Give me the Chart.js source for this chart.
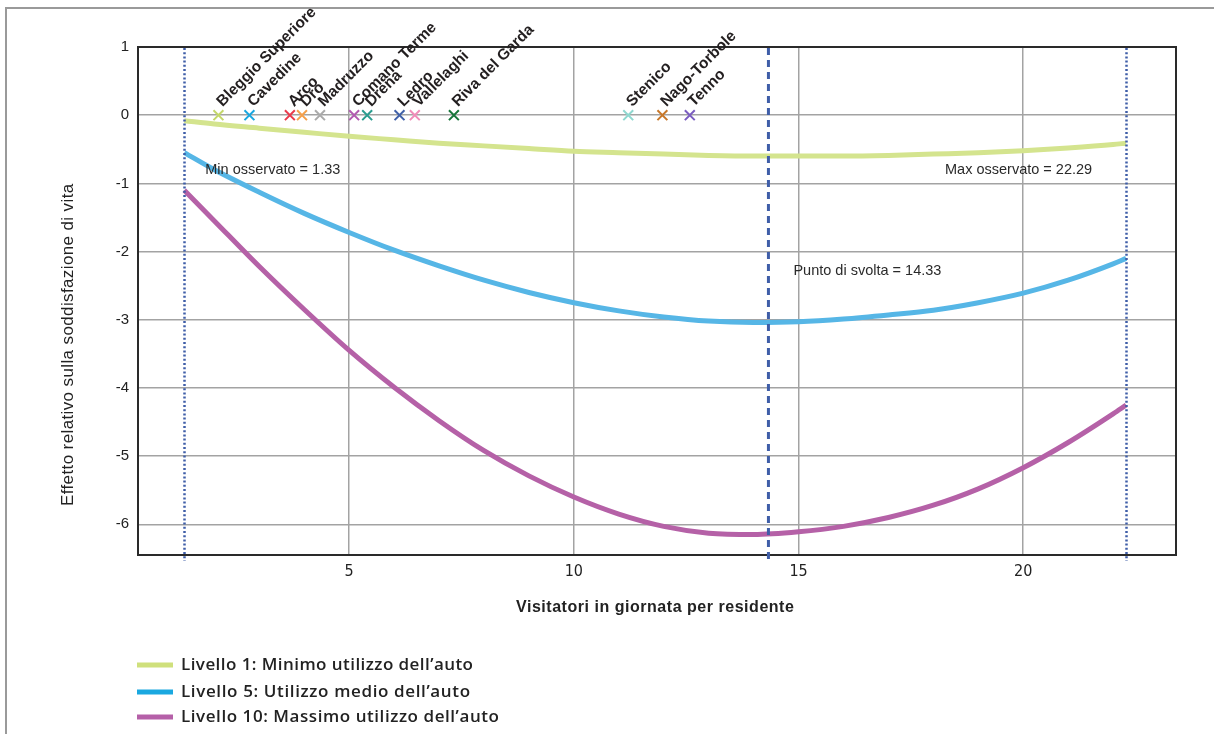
<!DOCTYPE html>
<html><head><meta charset="utf-8">
<script src="https://cdn.jsdelivr.net/npm/chart.js@4.4.1/dist/chart.umd.min.js"></script>
<style>html,body{margin:0;padding:0;background:#fff;}canvas{display:block;}</style>
</head><body>
<canvas id="c" width="1214" height="734"></canvas>
<script>
// ---- data ----
const xValues   = [1.33, 2, 3, 4, 5, 6, 7, 8, 9, 10, 11, 12, 13, 14, 15, 16, 17, 18, 19, 20, 21, 22, 22.29];
const livello1  = [-0.08, -0.13, -0.19, -0.25, -0.31, -0.36, -0.41, -0.45, -0.49, -0.53, -0.55, -0.57, -0.59, -0.60, -0.60, -0.60, -0.59, -0.57, -0.55, -0.52, -0.48, -0.43, -0.41];
const livello5  = [-0.55, -0.80, -1.13, -1.44, -1.72, -1.98, -2.21, -2.42, -2.60, -2.75, -2.87, -2.96, -3.02, -3.04, -3.03, -2.99, -2.93, -2.86, -2.75, -2.61, -2.42, -2.18, -2.10];
const livello10 = [-1.10, -1.55, -2.22, -2.85, -3.45, -3.99, -4.48, -4.92, -5.29, -5.60, -5.85, -6.03, -6.13, -6.15, -6.11, -6.03, -5.90, -5.72, -5.48, -5.17, -4.80, -4.38, -4.25];
const seriesNames = ['Livello 1: Minimo utilizzo dell\u2019auto', 'Livello 5: Utilizzo medio dell\u2019auto', 'Livello 10: Massimo utilizzo dell\u2019auto'];

const comuni  = ['Bleggio Superiore', 'Cavedine', 'Arco', 'Dro', 'Madruzzo', 'Comano Terme', 'Drena', 'Ledro', 'Vallelaghi', 'Riva del Garda', 'Stenico', 'Nago-Torbole', 'Tenno'];
const comuniX = [2.09, 2.78, 3.68, 3.95, 4.35, 5.11, 5.40, 6.12, 6.46, 7.33, 11.21, 11.97, 12.58];

const minOsservato = 1.33, maxOsservato = 22.29, puntoSvolta = 14.33;
const xTicks = [5, 10, 15, 20];
const yTicks = [-6, -5, -4, -3, -2, -1, 0, 1];

// ---- styles ----
const lineColors   = ['#d4e48e', '#56b6e6', '#b561a7'];
const legendColors = ['#cfe07c', '#1aa8e0', '#b560a8'];
const comuniColors = ['#c4d86a', '#1aa7e0', '#ea3a4c', '#f5a04a', '#aaaaaa', '#b25ab0', '#2a9d8f', '#4060a8', '#f18cb9', '#17753a', '#8fd8d0', '#c8782a', '#7a5cc0'];
const refBlue = '#3f5ea8';

function fitText(ctx, text, x, y, target) {
  ctx.letterSpacing = '0px';
  const w = ctx.measureText(text).width;
  let sp = (target - w) / Math.max(1, text.length - 1);
  sp = Math.max(-1, Math.min(3, sp));
  ctx.letterSpacing = sp.toFixed(2) + 'px';
  ctx.fillText(text, x, y);
  ctx.letterSpacing = '0px';
}

const decor = {
  id: 'decor',
  beforeDraw(chart) {
    const ctx = chart.ctx;
    ctx.save();
    ctx.fillStyle = '#fff';
    ctx.fillRect(0, 0, chart.width, chart.height);
    ctx.strokeStyle = '#9a9a9a';
    ctx.lineWidth = 2;
    ctx.beginPath();
    ctx.moveTo(6, 734); ctx.lineTo(6, 8); ctx.lineTo(1214, 8);
    ctx.stroke();
    ctx.restore();
  },
  beforeDatasetsDraw(chart) {
    const {ctx, chartArea: a} = chart;
    ctx.save();
    ctx.strokeStyle = '#2a2a2a';
    ctx.lineWidth = 2;
    ctx.strokeRect(a.left, a.top, a.right - a.left, a.bottom - a.top);
    ctx.restore();
  },
  afterDatasetsDraw(chart) {
    const {ctx, chartArea: a, scales: {x, y}} = chart;
    ctx.save();
    // dotted min/max lines
    ctx.strokeStyle = refBlue;
    ctx.lineWidth = 2.5;
    ctx.setLineDash([2, 2.2]);
    [minOsservato, maxOsservato].forEach(v => {
      const px = Math.round(x.getPixelForValue(v)) + 0.5;
      ctx.beginPath(); ctx.moveTo(px, a.top + 1); ctx.lineTo(px, a.bottom + 6); ctx.stroke();
    });
    // dashed turning point
    ctx.lineWidth = 3;
    ctx.setLineDash([7, 5]);
    const sp = x.getPixelForValue(puntoSvolta);
    ctx.beginPath(); ctx.moveTo(sp, a.top + 1); ctx.lineTo(sp, a.bottom + 6); ctx.stroke();
    ctx.setLineDash([]);

    // annotations
    ctx.fillStyle = '#2a2a2a';
    ctx.font = '14.5px "Liberation Sans", Arial, sans-serif';
    ctx.textBaseline = 'middle';
    ctx.textAlign = 'left';
    ctx.fillText('Min osservato = ' + minOsservato.toFixed(2), x.getPixelForValue(minOsservato) + 21, y.getPixelForValue(-0.81));
    ctx.textAlign = 'right';
    ctx.fillText('Max osservato = ' + maxOsservato.toFixed(2), x.getPixelForValue(maxOsservato) - 34, y.getPixelForValue(-0.80));
    ctx.textAlign = 'left';
    ctx.fillText('Punto di svolta = ' + puntoSvolta.toFixed(2), sp + 25, y.getPixelForValue(-2.29));

    // comuni labels
    ctx.font = 'bold 15.5px "Liberation Sans", Arial, sans-serif';
    ctx.fillStyle = '#231f20';
    ctx.textBaseline = 'alphabetic';
    ctx.textAlign = 'left';
    comuni.forEach((name, i) => {
      const px = x.getPixelForValue(comuniX[i]);
      const py = y.getPixelForValue(0);
      ctx.save();
      ctx.translate(px + 4, py - 8);
      ctx.rotate(-Math.PI / 4);
      ctx.fillText(name, 0, 0);
      ctx.restore();
    });
    ctx.restore();
  },
  afterDraw(chart) {
    const ctx = chart.ctx;
    ctx.save();
    ctx.fillStyle = '#222';
    // y title
    ctx.font = '17px "Liberation Sans", Arial, sans-serif';
    ctx.textBaseline = 'middle';
    ctx.textAlign = 'left';
    ctx.save();
    ctx.translate(68, 345);
    ctx.rotate(-Math.PI / 2);
    fitText(ctx, 'Effetto relativo sulla soddisfazione di vita', -161, 0, 322);
    ctx.restore();
    // x title
    ctx.font = 'bold 16px "Liberation Sans", Arial, sans-serif';
    fitText(ctx, 'Visitatori in giornata per residente', 516, 608, 278);
    // legend
    const ly = [665, 692, 717];
    const targets = [292, 289, 318];
    ctx.font = '600 17px "Open Sans", "Liberation Sans", Arial, sans-serif';
    seriesNames.forEach((n, i) => {
      ctx.fillStyle = legendColors[i];
      ctx.fillRect(137, ly[i] - 2.5, 36, 5);
      ctx.fillStyle = '#222';
      fitText(ctx, n, 181, ly[i], targets[i]);
    });
    ctx.restore();
  }
};

const mkLine = (vals, i) => ({
  type: 'line',
  label: seriesNames[i],
  data: xValues.map((xv, k) => ({x: xv, y: vals[k]})),
  borderColor: lineColors[i],
  borderWidth: 5,
  pointRadius: 0,
  tension: 0.4,
  cubicInterpolationMode: 'monotone',
  fill: false
});

new Chart(document.getElementById('c'), {
  type: 'line',
  data: {
    datasets: [
      mkLine(livello1, 0), mkLine(livello5, 1), mkLine(livello10, 2),
      {
        type: 'scatter',
        label: 'Comuni',
        data: comuniX.map(v => ({x: v, y: 0})),
        pointStyle: 'crossRot',
        pointRadius: 7,
        pointBorderWidth: 2,
        pointBorderColor: comuniColors,
        pointBackgroundColor: comuniColors,
        showLine: false
      }
    ]
  },
  options: {
    responsive: false,
    animation: false,
    devicePixelRatio: 1,
    layout: {padding: {left: 0, right: 38, top: 47, bottom: 0}},
    plugins: {legend: {display: false}, tooltip: {enabled: false}},
    scales: {
      x: {
        type: 'linear', min: 0.30, max: 23.4,
        afterBuildTicks: s => { s.ticks = xTicks.map(v => ({value: v})); },
        afterFit: s => { s.height = 179; },
        grid: {color: '#a3a3a3', lineWidth: 1.5, drawTicks: false},
        border: {display: false},
        ticks: {padding: 7, color: '#222', autoSkip: false, maxRotation: 0,
                font: {family: '"Liberation Sans Narrow", "DejaVu Sans Condensed", "Liberation Sans", sans-serif', size: 16}}
      },
      y: {
        type: 'linear', min: -6.45, max: 1,
        afterBuildTicks: s => { s.ticks = yTicks.map(v => ({value: v})); },
        afterFit: s => { s.width = 138; },
        grid: {color: '#a3a3a3', lineWidth: 1.5, drawTicks: false},
        border: {display: false},
        ticks: {padding: 9, color: '#222', font: {family: '"Liberation Sans", Arial, sans-serif', size: 15}}
      }
    }
  },
  plugins: [decor]
});
</script>
</body></html>
